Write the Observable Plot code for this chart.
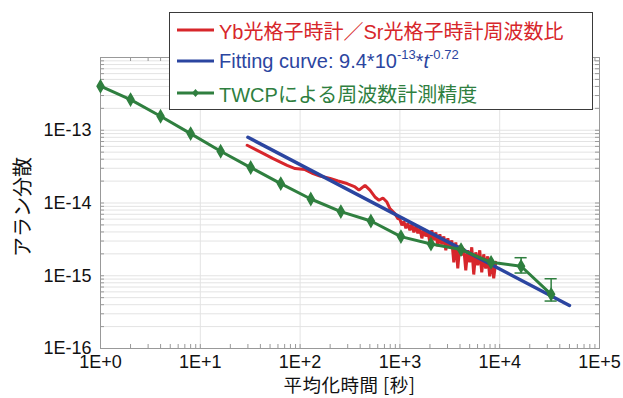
<!DOCTYPE html>
<html><head><meta charset="utf-8">
<script src="https://cdn.jsdelivr.net/npm/d3@7"></script>
<script src="https://cdn.jsdelivr.net/npm/@observablehq/plot@0.6"></script>
<style>
body{margin:0;background:#fff;}
#wrap{position:relative;width:623px;height:398px;overflow:hidden;font-family:"Liberation Sans",Arial,"Noto Sans CJK JP",sans-serif;}
#legend{position:absolute;left:169px;top:12px;width:424px;height:98px;box-sizing:border-box;border:1.5px solid #3a3a3a;background:#fff;}
.row{position:absolute;left:7px;height:30px;display:flex;align-items:center;font-size:20px;white-space:nowrap;font-family:"Liberation Sans",Arial,"Noto Sans CJK JP",sans-serif;}
.row svg{margin-right:5px;}
sup{font-size:13px;vertical-align:9px;line-height:0;}
#xt{position:absolute;left:100px;width:499px;top:374px;height:21px;line-height:21px;text-align:center;font-size:18.5px;letter-spacing:0.5px;font-family:"Noto Sans CJK JP",sans-serif;color:#111;}
#yt{position:absolute;left:22px;top:207px;line-height:24px;transform:translate(-50%,-50%) rotate(-90deg);font-size:20px;white-space:nowrap;font-family:"Noto Sans CJK JP",sans-serif;color:#111;}
</style></head>
<body>
<div id="wrap">
  <div id="chart"></div>
  <div id="legend"></div>
  <div id="xt"></div>
  <div id="yt"></div>
</div>
<script>
// ---- data ----
const xTicks = [1, 10, 100, 1000, 1e4, 1e5];
const yTicks = [1e-16, 1e-15, 1e-14, 1e-13, 1e-12];
const yLabelTicks = [1e-16, 1e-15, 1e-14, 1e-13];

// Yb/Sr frequency ratio Allan deviation
const redT = [29.5, 39.8, 53.7, 74.1, 89.1, 112, 135, 158, 200, 240, 295, 355, 389, 447, 501, 562, 617, 676, 741, 794, 891, 955,
  1000, 1047, 1096, 1148, 1202, 1259, 1318, 1380, 1445, 1514, 1585, 1660, 1738, 1820, 1905, 1995, 2089, 2188, 2291, 2399,
  2512, 2630, 2754, 2884, 3020, 3162, 3311, 3467, 3631, 3802, 3981, 4169, 4365, 4571, 4786, 5012, 5248, 5495, 5754, 6026,
  6310, 6607, 6918, 7244, 7586, 7943, 8318, 8710, 9120];
const redV = [6.22e-14, 5.04e-14, 4.08e-14, 3.30e-14, 2.97e-14, 2.88e-14, 2.54e-14, 2.35e-14, 2.17e-14, 2.01e-14, 1.85e-14,
  1.66e-14, 1.50e-14, 1.75e-14, 1.50e-14, 1.21e-14, 1.09e-14, 1.17e-14, 1.03e-14, 8.38e-15, 7.14e-15, 6.10e-15,
  5.97e-15, 4.93e-15, 5.60e-15, 4.49e-15, 5.26e-15, 4.21e-15, 5.09e-15, 3.95e-15, 4.78e-15, 3.83e-15, 4.49e-15, 3.27e-15,
  4.35e-15, 3.48e-15, 4.08e-15, 2.88e-15, 4.21e-15, 3.07e-15, 3.95e-15, 2.54e-15, 3.71e-15, 2.70e-15, 3.48e-15, 2.24e-15,
  3.27e-15, 2.46e-15, 3.07e-15, 1.53e-15, 2.88e-15, 1.26e-15, 2.62e-15, 1.91e-15, 2.38e-15, 1.19e-15, 2.24e-15, 1.53e-15,
  2.46e-15, 1.04e-15, 2.10e-15, 1.39e-15, 2.24e-15, 1.11e-15, 1.97e-15, 1.26e-15, 1.85e-15, 9.8e-16, 1.63e-15, 9.2e-16, 1.53e-15];

// Fitting curve endpoints: 9.4e-13 * t^-0.72
const fitT = [30, 50000];
const fitV = [8.0e-14, 3.9e-16];

// TWCP frequency measurement precision
const greenT = [1, 2, 4, 8, 16, 32, 64, 128, 256, 512, 1024, 2048, 4096, 8192, 16384, 32768];
const greenV = [4.03e-13, 2.64e-13, 1.56e-13, 9.0e-14, 5.14e-14, 3.07e-14, 1.85e-14, 1.135e-14, 7.62e-15, 5.65e-15,
  3.45e-15, 2.73e-15, 2.29e-15, 1.53e-15, 1.35e-15, 5.55e-16];
const errT = [16384, 32768];
const errLo = [1.09e-15, 4.49e-16];
const errHi = [1.77e-15, 9.1e-16];

// ---- build ----
const RED = "#d7262b", BLUE = "#2b45a0", GREEN = "#2f7f3f";
const red = redT.map((t, i) => ({t, v: redV[i]}));
const fit = fitT.map((t, i) => ({t, v: fitV[i]}));
const green = greenT.map((t, i) => ({t, v: greenV[i]}));
const err = errT.map((t, i) => ({t, lo: errLo[i], hi: errHi[i]}));
const caps = err.flatMap(d => [{t: d.t, v: d.lo}, {t: d.t, v: d.hi}]);

const W = 623, H = 398, mt = 57, mb = 50, ml = 100, mr = 24;
const iw = W - ml - mr, ih = H - mt - mb;
const xMinor = xTicks.slice(0, -1).flatMap(d => d3.range(1, 10).map(m => m * d)).concat([1e5]);
const yMinor = yTicks.slice(0, -1).flatMap(d => d3.range(1, 10).map(m => m * d)).concat([1e-12]);

const chart = Plot.plot({
  width: W, height: H,
  marginTop: mt, marginBottom: mb, marginLeft: ml, marginRight: mr,
  style: {fontFamily: "Liberation Sans, Arial, sans-serif", color: "#111", background: "#fff"},
  x: {type: "log", domain: [1, 1e5]},
  y: {type: "log", domain: [1e-16, 1e-12]},
  marks: [
    Plot.ruleY(yMinor, {y: d => d, stroke: "#e3e3e3", strokeWidth: 1, strokeOpacity: 1}),
    Plot.ruleX(xTicks, {x: d => d, stroke: "#e3e3e3", strokeWidth: 1, strokeOpacity: 1}),
    Plot.tickX(xMinor, {x: d => d, stroke: "#999", insetTop: ih - 4}),
    Plot.tickX(xMinor, {x: d => d, stroke: "#999", insetBottom: ih - 4}),
    Plot.tickY(yMinor, {y: d => d, stroke: "#999", insetRight: iw - 4}),
    Plot.tickY(yMinor, {y: d => d, stroke: "#999", insetLeft: iw - 4}),
    Plot.frame({stroke: "#999", strokeWidth: 1}),
    Plot.line(red, {x: "t", y: "v", stroke: RED, strokeWidth: 3, strokeLinejoin: "miter"}),
    Plot.line(fit, {x: "t", y: "v", stroke: BLUE, strokeWidth: 3.5}),
    Plot.line(green, {x: "t", y: "v", stroke: GREEN, strokeWidth: 3}),
    Plot.ruleX(err, {x: "t", y1: "lo", y2: "hi", stroke: GREEN, strokeWidth: 1.5}),
    Plot.ruleY(caps, {y: "v", x1: d => d.t / 1.15, x2: d => d.t * 1.15, stroke: GREEN, strokeWidth: 1.5}),
    Plot.dot(green, {x: "t", y: "v", symbol: "diamond", r: 3.6, fill: GREEN, stroke: GREEN}),
    Plot.axisX(xTicks, {anchor: "bottom", tickSize: 0, tickPadding: 7, fontSize: 18, label: null,
      tickFormat: d => "1E+" + Math.round(Math.log10(d))}),
    Plot.axisY(yLabelTicks, {anchor: "left", tickSize: 0, tickPadding: 9, fontSize: 18, label: null,
      tickFormat: d => "1E" + Math.round(Math.log10(d))})
  ]
});
document.getElementById("chart").appendChild(chart);

// legend
const legendItems = [
  {color: RED, html: "Yb光格子時計／Sr光格子時計周波数比", marker: false, y: 2},
  {color: BLUE, html: "Fitting curve: 9.4*10<sup>-13</sup>*<i>t</i><sup>-0.72</sup>", marker: false, y: 33},
  {color: GREEN, html: "TWCPによる周波数計測精度", marker: true, y: 65}
];
const lg = document.getElementById("legend");
legendItems.forEach(it => {
  const row = document.createElement("div");
  row.className = "row";
  row.style.top = it.y + "px";
  row.style.color = it.color;
  row.innerHTML = `<svg width="37" height="12"><line x1="0" x2="37" y1="6" y2="6" stroke="${it.color}" stroke-width="3"/>` +
    (it.marker ? `<path d="M18.5,2 L22,6 L18.5,10 L15,6Z" fill="${it.color}"/>` : "") + `</svg><span>${it.html}</span>`;
  lg.appendChild(row);
});
document.getElementById("xt").textContent = "平均化時間 [秒]";
document.getElementById("yt").textContent = "アラン分散";
</script>
</body></html>
